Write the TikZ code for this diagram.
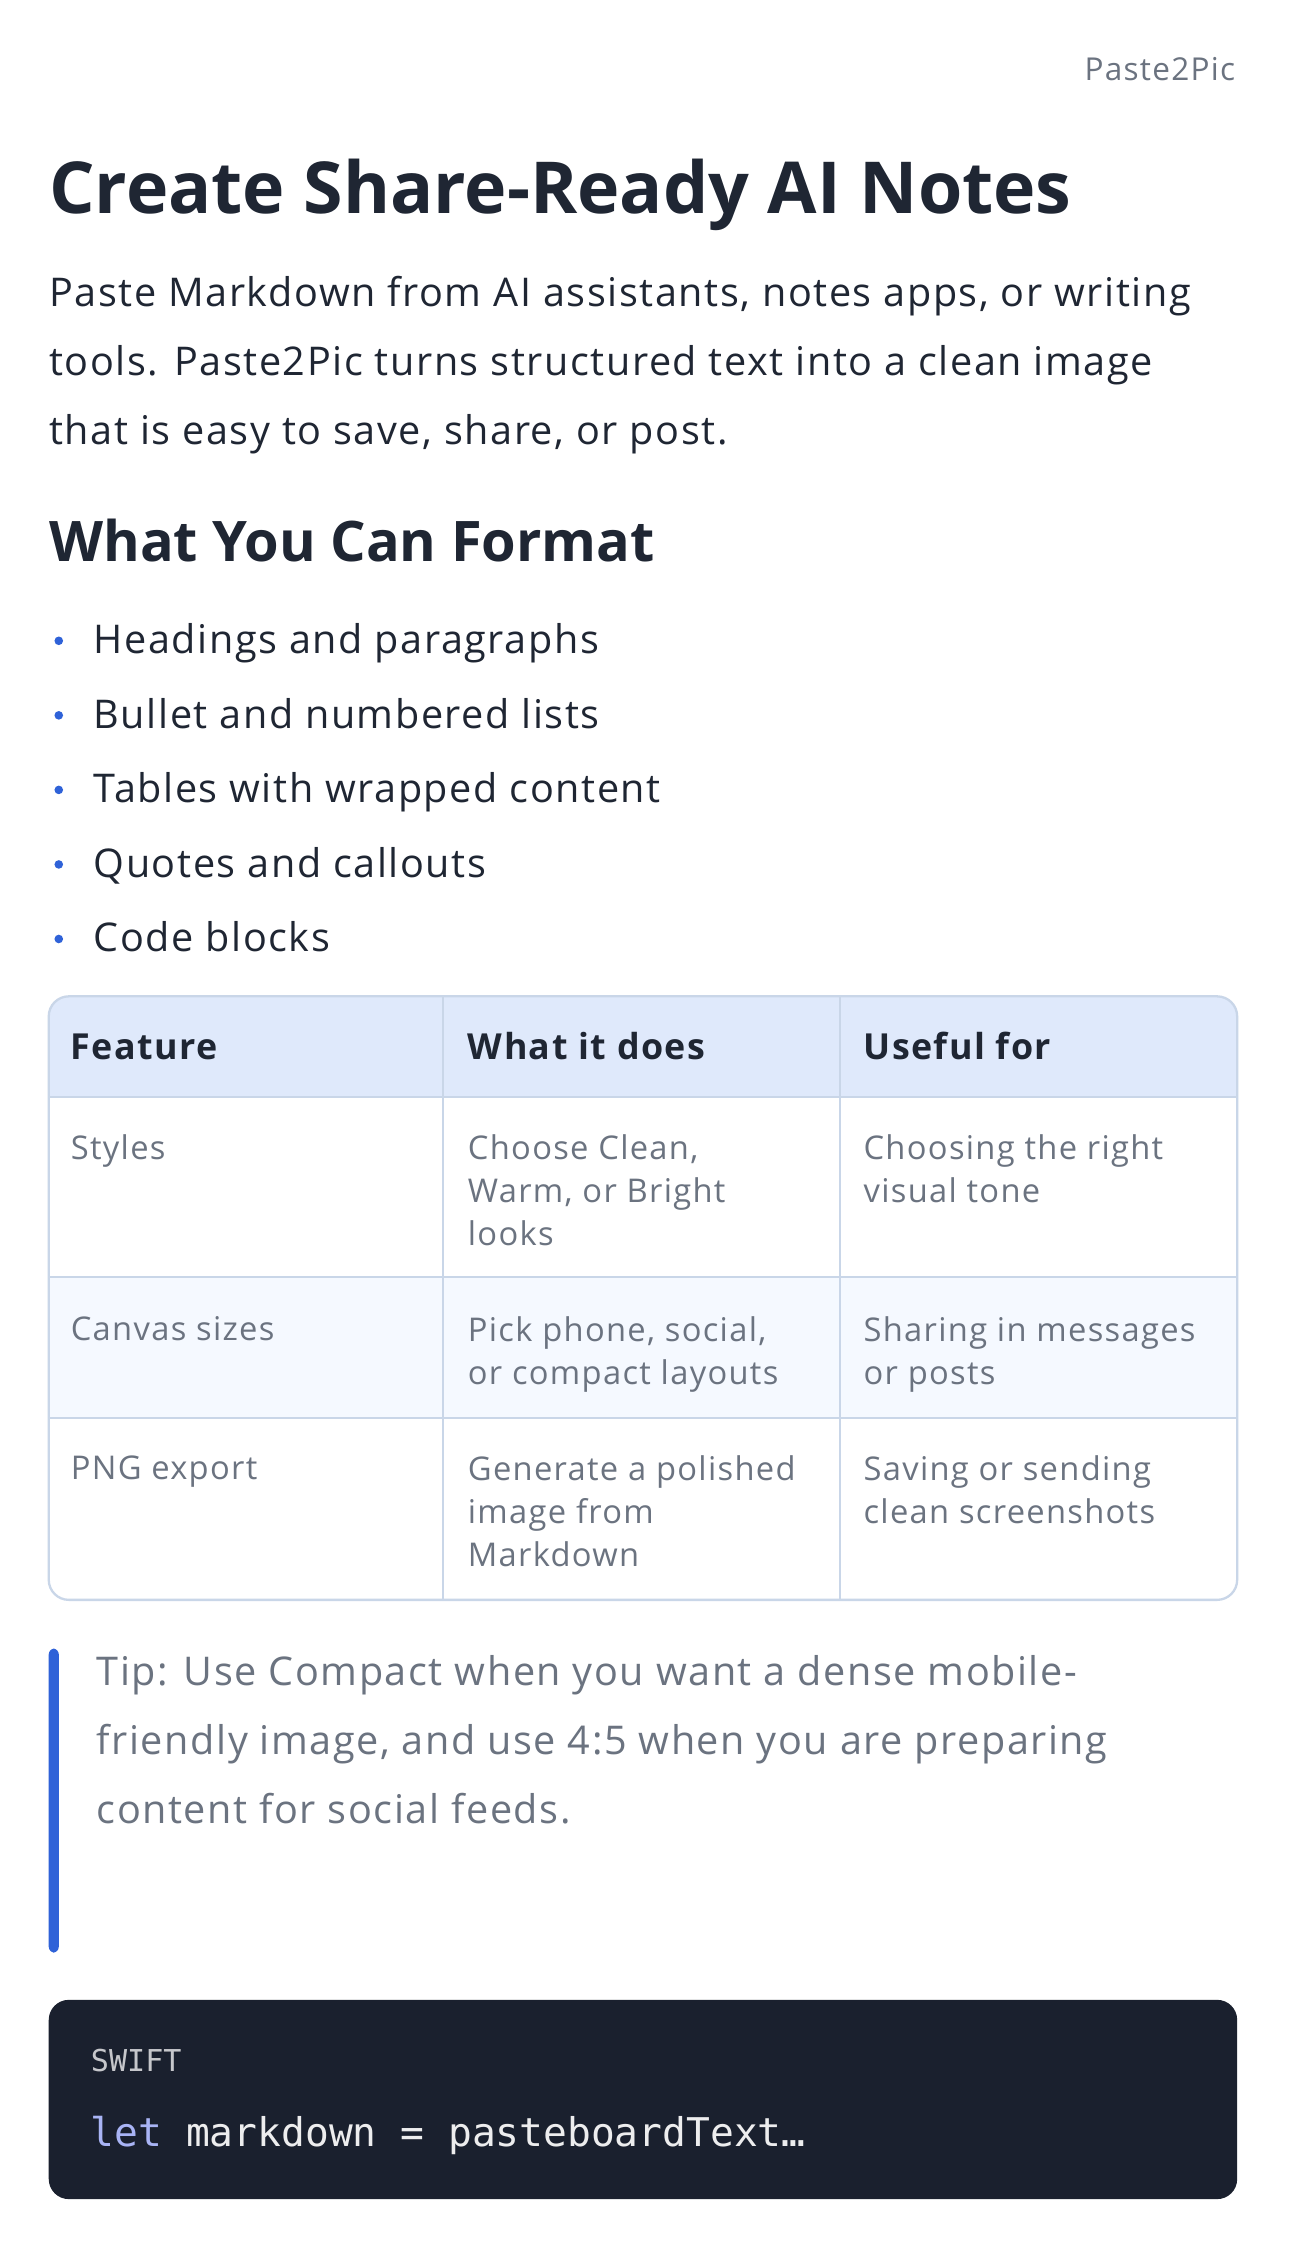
\documentclass[tikz,border=0pt]{standalone}
\usepackage{fontspec}
\setmainfont{Open Sans}[LetterSpace=4]
\newfontfamily\tight{Open Sans}
\setmonofont{DejaVu Sans Mono}
\definecolor{ink}{HTML}{1F2633}
\definecolor{muted}{HTML}{6B7380}
\definecolor{accent}{HTML}{2F62D8}
\definecolor{hdr}{HTML}{DFE9FB}
\definecolor{alt}{HTML}{F5F9FF}
\definecolor{grid}{HTML}{C9D6E8}
\definecolor{codebg}{HTML}{1A202E}
\definecolor{kw}{HTML}{A9B4F5}
\begin{document}
\begin{tikzpicture}[x=0.5pt,y=-0.5pt,
  txt/.style={anchor=base west,inner sep=0,text=ink,font=\fontsize{13.8}{16}\selectfont},
  cell/.style={anchor=north west,inner sep=0,text=muted,align=left,font=\fontsize{11.4}{15}\selectfont},
  head/.style={anchor=base west,inner sep=0,text=ink,font=\fontsize{12.5}{15}\selectfont\bfseries},
  bul/.style={circle,fill=accent,inner sep=0,minimum size=3pt},
  quote/.style={anchor=base west,inner sep=0,text=muted,font=\fontsize{13.8}{16}\selectfont}]
\useasboundingbox[fill=white] (0,0) rectangle (900,1573);
\node[anchor=base east,inner sep=0,text=muted,font=\fontsize{11}{13}\selectfont] (brand) at (862,56) {Paste2Pic};
\node[txt,font=\tight\fontsize{25}{30}\selectfont\bfseries] (title) at (34,149) {Create Share-Ready AI Notes};
\node[txt] (p1) at (34,214) {Paste Markdown from AI assistants, notes apps, or writing};
\node[txt] (p2) at (34,262) {tools. Paste2Pic turns structured text into a clean image};
\node[txt] (p3) at (34,310) {that is easy to save, share, or post.};
\node[txt,font=\tight\fontsize{19.5}{24}\selectfont\bfseries] (h2) at (34,392) {What You Can Format};
\foreach \i/\t in {0/Headings and paragraphs,1/Bullet and numbered lists,2/Tables with wrapped content,3/Quotes and callouts,4/Code blocks}{
  \node[bul] (b\i) at (41,{447+52*\i}) {};
  \node[txt] (l\i) at (65,{456+52*\i}) {\t};
}
% table
\begin{scope}
\clip[rounded corners=7] (34,695) rectangle (863,1116);
\fill[hdr] (34,695) rectangle (863,765);
\fill[alt] (34,891) rectangle (863,989);
\draw[grid,line width=0.8pt] (34,765) -- (863,765) (34,891) -- (863,891) (34,989) -- (863,989)
  (309,695) -- (309,1116) (586,695) -- (586,1116);
\end{scope}
\draw[grid,line width=0.8pt,rounded corners=7] (34,695) rectangle (863,1116);
\node[head] (h1) at (49,739) {Feature};
\node[head] (h2c) at (326,739) {What it does};
\node[head] (h3) at (602,739) {Useful for};
\node[cell] (c11) at (49,791) {Styles};
\node[cell] (c12) at (326,791) {Choose Clean,\\Warm, or Bright\\looks};
\node[cell] (c13) at (602,791) {Choosing the right\\visual tone};
\node[cell] (c21) at (49,918) {Canvas sizes};
\node[cell] (c22) at (326,918) {Pick phone, social,\\or compact layouts};
\node[cell] (c23) at (602,918) {Sharing in messages\\or posts};
\node[cell] (c31) at (49,1015) {PNG export};
\node[cell] (c32) at (326,1015) {Generate a polished\\image from\\Markdown};
\node[cell] (c33) at (602,1015) {Saving or sending\\clean screenshots};
% quote
\fill[accent,rounded corners=2] (34,1150) rectangle (41,1362);
\node[quote] (q1) at (67,1176) {Tip: Use Compact when you want a dense mobile-};
\node[quote] (q2) at (67,1224) {friendly image, and use 4:5 when you are preparing};
\node[quote] (q3) at (67,1272) {content for social feeds.};
% code
\fill[codebg,rounded corners=7] (34,1395) rectangle (863,1534);
\node[anchor=base west,inner sep=0,text=white!75!codebg,font=\ttfamily\fontsize{10.5}{12}\selectfont] (lang) at (63,1445) {SWIFT};
\node[anchor=base west,inner sep=0,text=white!92!codebg,font=\ttfamily\fontsize{13.8}{15}\selectfont] (code) at (63,1497) {\textcolor{kw}{let} markdown = pasteboardText…};
\end{tikzpicture}
\end{document}
